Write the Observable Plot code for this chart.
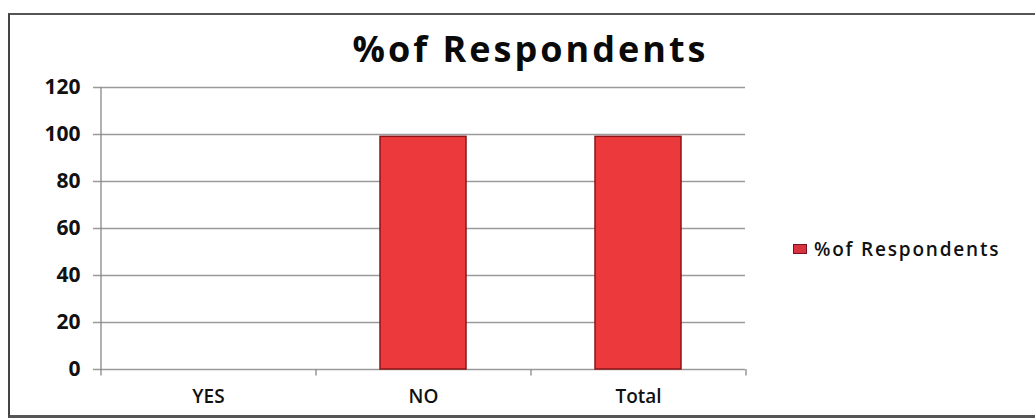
<!DOCTYPE html>
<html>
<head>
<meta charset="utf-8">
<script src="https://cdn.jsdelivr.net/npm/d3@7"></script>
<script src="https://cdn.jsdelivr.net/npm/@observablehq/plot@0.6"></script>
<style>
  html, body { margin: 0; padding: 0; background: #fff; overflow: hidden; }
  body { width: 1035px; height: 418px; position: relative; font-family: "Open Sans", sans-serif; }
  #frame { position: absolute; left: 8px; top: 13px; width: 1025px; height: 400px;
           border-left: 2px solid #444; border-top: 2px solid #555; border-bottom: 3px solid #555; }
  #title { position: absolute; left: 0; width: 1035px; box-sizing: border-box; padding-left: 26px; top: 24px;
           text-align: center; font-size: 36px; font-weight: 700; color: #0a0a0a; letter-spacing: 3px; }
  #chart { position: absolute; left: 0; top: 0; }
  #legend { position: absolute; left: 793px; top: 236px; font-size: 19px; font-weight: 600; color: #111;
            letter-spacing: 1.8px; display: flex; align-items: center; }
  #legend .sw { width: 12px; height: 8px; background: #d8323f; border: 1px solid #7a1020; margin-right: 7px; }
</style>
</head>
<body>
<div id="frame"></div>
<div id="title">%of Respondents</div>
<div id="chart"></div>
<div id="legend"><span class="sw"></span><span id="legendText"></span></div>
<script>
// Survey answers and the share of respondents for each
const categories = ["YES", "NO", "Total"];
const respondents = [0, 99, 99];
const yTicks = [0, 20, 40, 60, 80, 100, 120];
const seriesName = "%of Respondents";

const rows = categories.map((c, i) => ({category: c, value: respondents[i]}));

const W = 1035, H = 418;
const mLeft = 100, mRight = 290, mTop = 87, mBottom = 49;
const step = (W - mLeft - mRight) / categories.length;

const chart = Plot.plot({
  width: W,
  height: H,
  marginLeft: mLeft,
  marginRight: mRight,
  marginTop: mTop,
  marginBottom: mBottom,
  style: {fontFamily: "Open Sans, sans-serif", fontWeight: "600", color: "#111", background: "transparent"},
  x: {domain: categories, paddingInner: 0.6, paddingOuter: 0.3, axis: null},
  y: {domain: [0, 120], axis: null},
  marks: [
    // horizontal gridlines, running a little past the value axis as tick marks
    Plot.ruleY(yTicks, {y: d => d, stroke: "#9a9a9a", strokeWidth: 1.3, insetLeft: -7}),
    // value axis line at the left edge of the first category band
    Plot.ruleX(categories.slice(0, 1), {x: d => d, dx: -step / 2, y1: 0, y2: 120, stroke: "#888", strokeWidth: 1.3}),
    // value tick labels
    Plot.text(yTicks, {y: d => d, frameAnchor: "left", dx: -20, textAnchor: "end", text: d => String(d),
      fontSize: 21, fontWeight: 700, fill: "#111", letterSpacing: 1.5}),
    // category boundary ticks on the bottom axis
    Plot.ruleX(categories, {x: d => d, dx: -step / 2, y1: 0, y2: -2.8, stroke: "#888", strokeWidth: 1.3}),
    Plot.ruleX(categories.slice(-1), {x: d => d, dx: step / 2, y1: 0, y2: -2.8, stroke: "#888", strokeWidth: 1.3}),
    // bars
    Plot.barY(rows, {x: "category", y: "value", fill: "#ec3a3c", stroke: "#8c1418", strokeWidth: 1.5}),
    // category labels
    Plot.text(categories, {x: d => d, y: 0, dy: 27, text: d => d, fontSize: 19, fontWeight: 600,
      fill: "#111", letterSpacing: 1.5})
  ]
});
document.getElementById("chart").appendChild(chart);
document.getElementById("legendText").textContent = seriesName;
</script>
</body>
</html>
